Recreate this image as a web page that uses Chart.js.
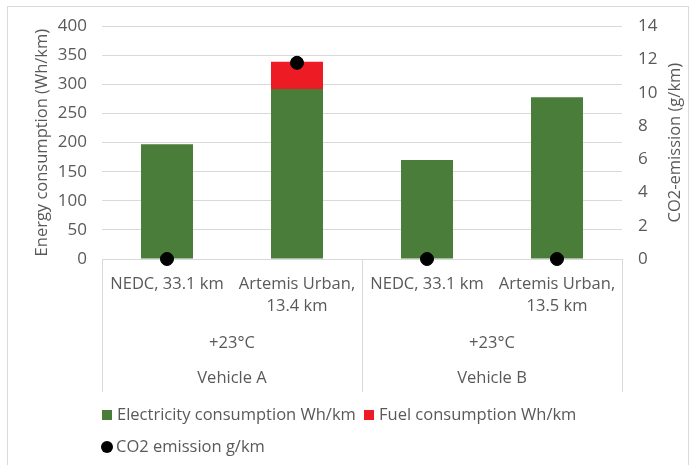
<!DOCTYPE html>
<html lang="en">
<head>
  <meta charset="UTF-8">
  <title>Energy consumption and CO2 emission</title>
  <script src="https://cdn.jsdelivr.net/npm/chart.js"></script>
  <style>
    body { margin: 0; background: #fff; font-family: "Open Sans", sans-serif; }
    #wrap { position: relative; width: 697px; height: 465px; }
    #frame { position: absolute; left: 7px; top: 6px; width: 682px; height: 460px; border: 1px solid #d9d9d9; box-sizing: border-box; }
    #chart { position: absolute; left: 0; top: 0; }
    .legend { position: absolute; left: 102px; top: 0; font-size: 16.5px; line-height: 20px; color: #595959; }
    .legend .item { position: absolute; white-space: nowrap; }
    .legend .box { display: inline-block; width: 10px; height: 10px; margin-right: 5px; vertical-align: 0px; }
    .legend .dot { display: inline-block; width: 12px; height: 12px; border-radius: 50%; margin-right: 3px; vertical-align: -1px; background: #000; }
  </style>
</head>
<body>
  <div id="wrap">
    <div id="frame"></div>
    <canvas id="chart" width="697" height="465"></canvas>
    <div class="legend" id="legend"></div>
  </div>

  <script>
    // categories and values
    const categories = [['NEDC, 33.1 km'], ['Artemis Urban,', '13.4 km'], ['NEDC, 33.1 km'], ['Artemis Urban,', '13.5 km']];
    const temperatures = ['+23°C', '+23°C'];
    const vehicles = ['Vehicle A', 'Vehicle B'];
    const electricity = [197, 292, 170, 278];
    const fuel = [0, 47, 0, 0];
    const co2 = [0, 11.8, 0, 0];

    const gray = '#595959';
    const gridGray = '#d9d9d9';
    const fam = '"Open Sans", sans-serif';
    const font = { family: fam, size: 16.5 };

    // vertical separators of the grouped category axis, and right title reading upwards
    const groupLines = {
      id: 'groupLines',
      afterDraw(chart) {
        const c = chart.ctx;
        const x = chart.scales.x, x3 = chart.scales.x3, y1 = chart.scales.y1;
        const mid = (x.getPixelForValue(1) + x.getPixelForValue(2)) / 2;
        c.save();
        c.strokeStyle = gridGray;
        c.lineWidth = 1;
        [x.left, mid, x.right].forEach(px => {
          c.beginPath();
          c.moveTo(Math.round(px) + 0.5, x.top);
          c.lineTo(Math.round(px) + 0.5, x3.bottom);
          c.stroke();
        });
        c.translate(675, (y1.top + y1.bottom) / 2);
        c.rotate(-Math.PI / 2);
        c.fillStyle = gray;
        c.font = '16.5px ' + fam;
        c.textAlign = 'center';
        c.textBaseline = 'middle';
        c.fillText('CO2-emission (g/km)', 0, 0);
        c.restore();
      }
    };

    const ctx = document.getElementById('chart').getContext('2d');
    new Chart(ctx, {
      type: 'bar',
      data: {
        labels: categories,
        datasets: [
          { label: 'CO2 emission g/km', type: 'line', data: co2, yAxisID: 'y1', showLine: false,
            pointRadius: 6.5, pointBackgroundColor: '#000', pointBorderColor: '#000', clip: false, order: 0 },
          { label: 'Electricity consumption Wh/km', data: electricity, backgroundColor: '#4a7d3a',
            yAxisID: 'y', barPercentage: 0.4, categoryPercentage: 1, order: 1 },
          { label: 'Fuel consumption Wh/km', data: fuel, backgroundColor: '#ed1c24',
            yAxisID: 'y', barPercentage: 0.4, categoryPercentage: 1, order: 1 }
        ]
      },
      options: {
        responsive: false,
        animation: false,
        layout: { padding: { top: 26, left: 10, right: 10, bottom: 73 } },
        plugins: { legend: { display: false }, tooltip: { enabled: false } },
        scales: {
          x: {
            stacked: true,
            grid: { display: false, drawTicks: false },
            border: { color: gridGray },
            ticks: { color: gray, font: { ...font, lineHeight: 1.33 }, padding: 14, maxRotation: 0 },
            afterFit: s => { s.height = 66; }
          },
          x2: {
            type: 'category', labels: temperatures, position: 'bottom', offset: true,
            grid: { display: false, drawTicks: false }, border: { display: false },
            ticks: { color: gray, font: font, padding: 8 },
            afterFit: s => { s.height = 34; }
          },
          x3: {
            type: 'category', labels: vehicles, position: 'bottom', offset: true,
            grid: { display: false, drawTicks: false }, border: { display: false },
            ticks: { color: gray, font: font, padding: 9 },
            afterFit: s => { s.height = 33; }
          },
          y: {
            stacked: true, min: 0, max: 400,
            ticks: { stepSize: 50, color: gray, font: { family: fam, size: 17 }, padding: 15 },
            grid: { color: gridGray, drawTicks: false },
            border: { display: false },
            title: { display: true, text: 'Energy consumption (Wh/km)', color: gray, font: font, padding: { top: 22 } },
            afterFit: s => { s.width = 92; }
          },
          y1: {
            position: 'right', min: 0, max: 14,
            ticks: { stepSize: 2, color: gray, font: { family: fam, size: 17 }, padding: 16 },
            grid: { display: false, drawTicks: false },
            border: { display: false },
            afterFit: s => { s.width = 65; }
          }
        }
      },
      plugins: [groupLines]
    });

    // legend laid out like the original: two items, then one below
    const legend = document.getElementById('legend');
    legend.innerHTML = `
      <div class="item" style="left:0; top:404px"><span class="box" style="background:#4a7d3a"></span>Electricity consumption Wh/km</div>
      <div class="item" style="left:262px; top:404px"><span class="box" style="background:#ed1c24"></span>Fuel consumption Wh/km</div>
      <div class="item" style="left:-1px; top:436px"><span class="dot"></span>CO2 emission g/km</div>
    `;
  </script>
</body>
</html>
